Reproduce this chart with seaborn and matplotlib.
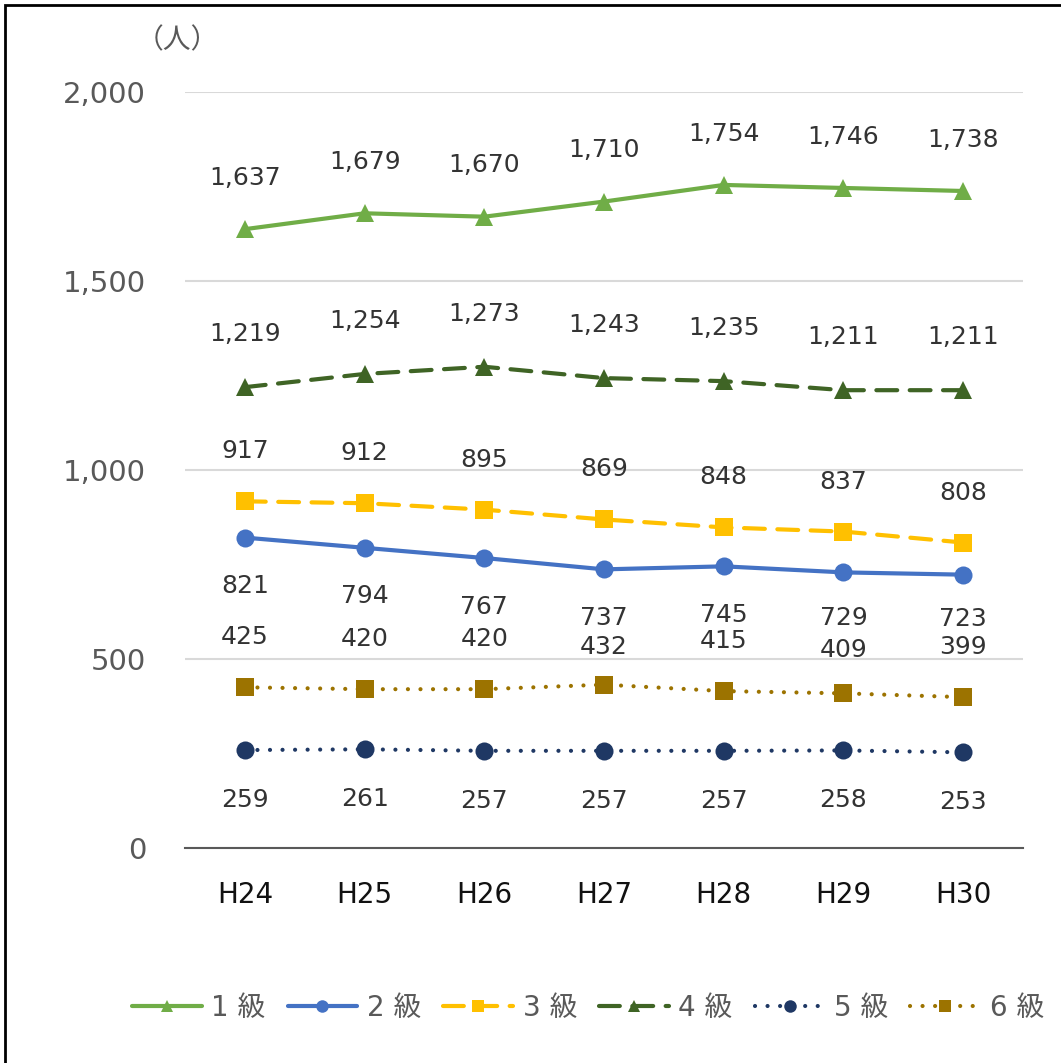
import pandas as pd
import numpy as np
import matplotlib
matplotlib.use("Agg")
import matplotlib.pyplot as plt
from matplotlib.lines import Line2D
from matplotlib.patches import Rectangle
import seaborn as sns

# ── Data ──────────────────────────────────────────────────────
years = ["H24", "H25", "H26", "H27", "H28", "H29", "H30"]
grade_names = ["1 級", "2 級", "3 級", "4 級", "5 級", "6 級"]
grade1 = [1637, 1679, 1670, 1710, 1754, 1746, 1738]
grade2 = [821, 794, 767, 737, 745, 729, 723]
grade3 = [917, 912, 895, 869, 848, 837, 808]
grade4 = [1219, 1254, 1273, 1243, 1235, 1211, 1211]
grade5 = [259, 261, 257, 257, 257, 258, 253]
grade6 = [425, 420, 420, 432, 415, 409, 399]

# ── Styles ────────────────────────────────────────────────────
colors  = ["#70AD47", "#4472C4", "#FFC000", "#3F6425", "#1F3864", "#9C7300"]
markers = ["^", "o", "s", "^", "o", "s"]
styles  = ["-", "-", (0, (5, 3)), (0, (5, 3)), (0, (0.01, 3)), (0, (0.01, 3))]
label_offsets = [37, -35, 36, 38, -36, 36]
# (series index, point index) -> offset, where labels would collide
label_nudge = {(5, 3): 27, (5, 5): 31, (1, 5): -33, (1, 6): -32}

sns.set_style("white")
plt.rcParams["font.family"] = ["DejaVu Sans", "Noto Sans CJK JP"]

fig = plt.figure(figsize=(10.61, 10.63), dpi=100)
ax = fig.add_axes([0.1744, 0.2023, 0.7898, 0.7112])

series = [grade1, grade2, grade3, grade4, grade5, grade6]
xpos = np.arange(len(years))

for si, (vals, col, mk, ls, off) in enumerate(zip(series, colors, markers, styles, label_offsets)):
    df = pd.DataFrame({"x": xpos, "y": vals})
    sns.lineplot(
        data=df, x="x", y="y", ax=ax,
        color=col, linestyle=ls, linewidth=3,
        marker=mk, markersize=13, markeredgecolor=col, markeredgewidth=0,
        dash_capstyle="round", solid_capstyle="round",
        zorder=3,
    )
    for xi, v in zip(xpos, vals):
        ax.annotate(
            f"{v:,}", (xi, v), xytext=(0, label_nudge.get((si, xi), off)),
            textcoords="offset points",
            ha="center", va="center", fontsize=18, color="#333333",
        )

# ── Axes formatting ───────────────────────────────────────────
ax.set_xlim(-0.5, len(years) - 0.5)
ax.set_ylim(0, 2000)
ax.set_yticks([0, 500, 1000, 1500, 2000])
ax.set_yticklabels(["0", "500", "1,000", "1,500", "2,000"], fontsize=21, color="#595959")
ax.tick_params(axis="y", length=0, pad=28)

ax.set_xticks(np.arange(-0.5, len(years), 1.0))
ax.set_xticklabels([])
ax.set_xticks(xpos, minor=True)
ax.set_xticklabels(years, minor=True, fontsize=20, color="#111111")
ax.tick_params(axis="x", which="major", length=9, width=1.5, color="#595959", direction="out")
ax.tick_params(axis="x", which="minor", length=0, pad=24)

ax.set_xlabel("")
ax.set_ylabel("")
ax.grid(axis="y", color="#D9D9D9", linewidth=1.5)
ax.set_axisbelow(True)
for side in ["top", "right", "left"]:
    ax.spines[side].set_visible(False)
ax.spines["bottom"].set_color("#595959")
ax.spines["bottom"].set_linewidth(1.5)

fig.text(177 / 1061, 1 - 40 / 1063, "（人）", ha="center", va="center",
         fontsize=20, color="#595959")

# ── Legend ────────────────────────────────────────────────────
handles = [
    Line2D([0], [0], color=c, linestyle=ls, linewidth=3, marker=mk,
           markersize=9, markeredgewidth=0, dash_capstyle="round",
           solid_capstyle="round")
    for c, ls, mk in zip(colors, styles, markers)
]
fig.legend(
    handles, grade_names, loc="center", bbox_to_anchor=(588 / 1061, 1 - 1008 / 1063),
    ncol=6, frameon=False, fontsize=20, handlelength=2.5, handletextpad=0.35,
    columnspacing=0.8, labelcolor="#595959",
)

# outer frame (only left and top visible)
fig.patches.append(Rectangle((5 / 1061, -0.2), 1.5, 1.2 - 5 / 1063,
                             transform=fig.transFigure, fill=False,
                             edgecolor="black", linewidth=2))

plt.savefig("out.png", dpi=100)
plt.close()
